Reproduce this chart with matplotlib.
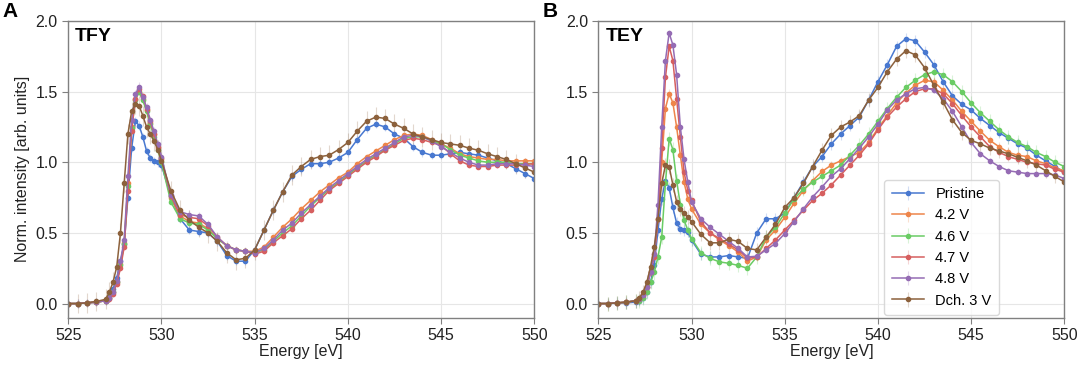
import matplotlib
matplotlib.use("Agg")
import matplotlib.pyplot as plt
import numpy as np

plt.rcParams['font.family'] = ['Liberation Sans', 'DejaVu Sans']

########### Data ######################################
energy = [525, 525.5, 526, 526.5, 527,
          527.2, 527.4, 527.6, 527.8, 528.0, 528.2, 528.4, 528.6, 528.8, 529.0,
          529.2, 529.4, 529.6, 529.8, 530.0,
          530.5, 531, 531.5, 532, 532.5, 533, 533.5, 534, 534.5, 535,
          535.5, 536, 536.5, 537, 537.5, 538, 538.5, 539, 539.5, 540,
          540.5, 541, 541.5, 542, 542.5, 543, 543.5, 544, 544.5, 545,
          545.5, 546, 546.5, 547, 547.5, 548, 548.5, 549, 549.5, 550]

labels = ['Pristine', '4.2 V', '4.6 V', '4.7 V', '4.8 V', 'Dch. 3 V']
colors = ['#4878d0', '#ee854a', '#6acc64', '#d65f5f', '#956cb4', '#8c613c']

# TFY panel
tfy_pristine = [0, 0, 0.005, 0.01, 0.02,
                0.05, 0.10, 0.18, 0.30, 0.42, 0.75, 1.10, 1.29, 1.26, 1.18,
                1.08, 1.03, 1.01, 1.00, 0.98,
                0.76, 0.60, 0.52, 0.51, 0.50, 0.44, 0.34, 0.30, 0.30, 0.38,
                0.52, 0.66, 0.79, 0.90, 0.95, 0.99, 0.99, 1.00, 1.03, 1.07,
                1.16, 1.24, 1.27, 1.25, 1.20, 1.17, 1.11, 1.07, 1.05, 1.05,
                1.06, 1.07, 1.06, 1.05, 1.03, 1.01, 0.99, 0.955, 0.92, 0.885]
tfy_42 = [0, 0, 0.005, 0.01, 0.02,
          0.04, 0.08, 0.15, 0.28, 0.43, 0.85, 1.25, 1.45, 1.50, 1.45,
          1.37, 1.28, 1.20, 1.10, 1.02,
          0.75, 0.62, 0.58, 0.57, 0.53, 0.46, 0.41, 0.38, 0.37, 0.37,
          0.40, 0.47, 0.54, 0.60, 0.67, 0.73, 0.79, 0.84, 0.89, 0.93,
          0.99, 1.04, 1.08, 1.12, 1.16, 1.19, 1.20, 1.19, 1.16, 1.13,
          1.10, 1.06, 1.04, 1.03, 1.02, 1.02, 1.01, 1.01, 1.01, 1.01]
tfy_46 = [0, 0, 0.005, 0.01, 0.02,
          0.04, 0.08, 0.15, 0.27, 0.42, 0.83, 1.24, 1.44, 1.50, 1.44,
          1.36, 1.27, 1.18, 1.09, 1.00,
          0.72, 0.60, 0.57, 0.56, 0.52, 0.46, 0.41, 0.38, 0.37, 0.36,
          0.38, 0.44, 0.50, 0.55, 0.62, 0.69, 0.75, 0.81, 0.86, 0.91,
          0.96, 1.01, 1.05, 1.09, 1.13, 1.17, 1.18, 1.18, 1.15, 1.13,
          1.09, 1.05, 1.03, 1.01, 1.00, 1.00, 1.00, 0.99, 0.99, 0.99]
tfy_47 = [0, 0, 0.005, 0.01, 0.02,
          0.03, 0.07, 0.14, 0.25, 0.40, 0.80, 1.22, 1.45, 1.52, 1.47,
          1.38, 1.29, 1.20, 1.11, 1.03,
          0.76, 0.63, 0.61, 0.60, 0.55, 0.47, 0.41, 0.38, 0.37, 0.35,
          0.37, 0.43, 0.48, 0.53, 0.60, 0.66, 0.73, 0.80, 0.85, 0.90,
          0.95, 1.00, 1.04, 1.085, 1.12, 1.155, 1.17, 1.16, 1.14, 1.12,
          1.06, 1.01, 0.98, 0.97, 0.97, 0.98, 0.98, 0.98, 0.985, 0.99]
tfy_48 = [0, 0, 0.005, 0.01, 0.02,
          0.04, 0.08, 0.16, 0.30, 0.45, 0.90, 1.30, 1.48, 1.535, 1.46,
          1.39, 1.30, 1.22, 1.13, 1.04,
          0.77, 0.65, 0.63, 0.62, 0.56, 0.47, 0.41, 0.38, 0.37, 0.36,
          0.39, 0.45, 0.52, 0.57, 0.64, 0.70, 0.76, 0.82, 0.87, 0.92,
          0.97, 1.02, 1.06, 1.10, 1.14, 1.18, 1.19, 1.18, 1.15, 1.11,
          1.07, 1.03, 1.00, 0.98, 0.98, 0.99, 0.99, 0.99, 0.98, 0.97]
tfy_dch = [0, 0, 0.005, 0.015, 0.03,
           0.08, 0.15, 0.26, 0.50, 0.85, 1.20, 1.36, 1.41, 1.40, 1.33,
           1.25, 1.20, 1.15, 1.09, 1.01,
           0.80, 0.66, 0.59, 0.54, 0.50, 0.44, 0.36, 0.31, 0.32, 0.38,
           0.52, 0.66, 0.79, 0.91, 0.97, 1.02, 1.04, 1.05, 1.09, 1.14,
           1.22, 1.29, 1.32, 1.31, 1.27, 1.24, 1.20, 1.18, 1.16, 1.14,
           1.13, 1.12, 1.10, 1.085, 1.06, 1.04, 1.02, 0.99, 0.96, 0.93]

# TEY panel
tey_pristine = [0, 0, 0.003, 0.005, 0.01,
                0.02, 0.04, 0.08, 0.15, 0.27, 0.52, 0.74, 0.87, 0.82, 0.68,
                0.57, 0.53, 0.52, 0.51, 0.45,
                0.35, 0.33, 0.33, 0.34, 0.33, 0.32, 0.50, 0.60, 0.60, 0.64,
                0.75, 0.86, 0.97, 1.04, 1.13, 1.20, 1.26, 1.32, 1.44, 1.57,
                1.69, 1.82, 1.875, 1.86, 1.78, 1.69, 1.57, 1.47, 1.41, 1.37,
                1.31, 1.26, 1.21, 1.17, 1.13, 1.10, 1.05, 1.01, 0.97, 0.93]
tey_42 = [0, 0, 0.005, 0.01, 0.02,
          0.03, 0.06, 0.12, 0.22, 0.35, 0.60, 1.00, 1.38, 1.486, 1.42,
          1.25, 1.05, 0.86, 0.74, 0.67,
          0.56, 0.50, 0.45, 0.41, 0.365, 0.30, 0.33, 0.45, 0.52, 0.61,
          0.71, 0.80, 0.87, 0.935, 0.98, 1.01, 1.04, 1.07, 1.14, 1.24,
          1.33, 1.42, 1.49, 1.545, 1.58, 1.57, 1.51, 1.44, 1.36, 1.29,
          1.22, 1.155, 1.11, 1.07, 1.05, 1.04, 1.01, 0.99, 0.96, 0.94]
tey_46 = [0, 0, 0.005, 0.01, 0.02,
          0.02, 0.04, 0.08, 0.15, 0.22, 0.33, 0.47, 0.85, 1.167, 1.09,
          0.87, 0.70, 0.59, 0.52, 0.46,
          0.36, 0.32, 0.295, 0.285, 0.27, 0.25, 0.33, 0.47, 0.54, 0.64,
          0.74, 0.81, 0.86, 0.90, 0.94, 0.98, 1.05, 1.12, 1.20, 1.29,
          1.38, 1.46, 1.53, 1.58, 1.62, 1.64, 1.62, 1.57, 1.50, 1.42,
          1.35, 1.29, 1.23, 1.18, 1.14, 1.11, 1.07, 1.04, 1.00, 0.97]
tey_47 = [0, 0, 0.005, 0.01, 0.02,
          0.03, 0.06, 0.12, 0.22, 0.33, 0.60, 1.10, 1.60, 1.82, 1.72,
          1.45, 1.18, 0.93, 0.80, 0.73,
          0.58, 0.50, 0.46, 0.42, 0.38, 0.32, 0.33, 0.39, 0.45, 0.52,
          0.59, 0.66, 0.73, 0.78, 0.84, 0.91, 0.98, 1.05, 1.13, 1.23,
          1.32, 1.39, 1.45, 1.50, 1.52, 1.52, 1.485, 1.415, 1.33, 1.25,
          1.18, 1.11, 1.07, 1.04, 1.02, 1.00, 0.99, 0.98, 0.95, 0.93]
tey_48 = [0, 0, 0.005, 0.01, 0.02,
          0.03, 0.06, 0.12, 0.22, 0.35, 0.70, 1.25, 1.72, 1.915, 1.83,
          1.62, 1.25, 1.02, 0.86, 0.72,
          0.60, 0.54, 0.49, 0.44, 0.39, 0.33, 0.335, 0.38, 0.425, 0.495,
          0.58, 0.67, 0.755, 0.825, 0.90, 0.955, 1.025, 1.10, 1.18, 1.27,
          1.37, 1.44, 1.485, 1.52, 1.53, 1.51, 1.45, 1.36, 1.25, 1.14,
          1.06, 1.01, 0.97, 0.94, 0.93, 0.92, 0.92, 0.92, 0.91, 0.885]
tey_dch = [0, 0, 0.005, 0.01, 0.02,
           0.04, 0.08, 0.15, 0.26, 0.40, 0.60, 0.85, 0.98, 0.97, 0.84,
           0.72, 0.67, 0.64, 0.61, 0.58,
           0.49, 0.43, 0.43, 0.455, 0.44, 0.39, 0.38, 0.47, 0.56, 0.68,
           0.75, 0.85, 0.97, 1.085, 1.19, 1.25, 1.285, 1.33, 1.44, 1.53,
           1.64, 1.73, 1.79, 1.76, 1.67, 1.545, 1.425, 1.30, 1.21, 1.155,
           1.13, 1.10, 1.08, 1.06, 1.035, 1.01, 0.98, 0.94, 0.90, 0.86]

# rough error bar size per series
tfy_err = [0.03, 0.02, 0.02, 0.02, 0.03, 0.07]
tey_err = [0.04, 0.03, 0.05, 0.02, 0.02, 0.05]

tfy_data = [tfy_pristine, tfy_42, tfy_46, tfy_47, tfy_48, tfy_dch]
tey_data = [tey_pristine, tey_42, tey_46, tey_47, tey_48, tey_dch]

############ Figure ###################
fig = plt.figure(figsize=(10.8, 3.68), dpi=100)
ax_a = fig.add_axes([0.0632, 0.1367, 0.4315, 0.8063])
ax_b = fig.add_axes([0.554, 0.1367, 0.4315, 0.8063])

for ax, series, errs, title in [(ax_a, tfy_data, tfy_err, 'TFY'),
                                (ax_b, tey_data, tey_err, 'TEY')]:
    for y, e, c, lab in zip(series, errs, colors, labels):
        ax.errorbar(energy, y, yerr=e, color=c, label=lab, marker='o',
                    markersize=3, linewidth=1.1, elinewidth=0.8,
                    ecolor=matplotlib.colors.to_rgba(c, 0.25), capsize=0)
    ax.set_xlim(525, 550)
    ax.set_ylim(-0.1, 2.0)
    ax.set_xticks([525, 530, 535, 540, 545, 550])
    ax.set_yticks([0.0, 0.5, 1.0, 1.5, 2.0])
    ax.yaxis.set_major_formatter(matplotlib.ticker.FormatStrFormatter('%.1f'))
    ax.grid(True, color='#e6e6e6', linewidth=0.8)
    ax.set_axisbelow(True)
    for s in ax.spines.values():
        s.set_color('#808080')
        s.set_linewidth(1)
    ax.tick_params(direction='out', length=4, color='#808080',
                   labelsize=11.5, labelcolor='#222222')
    ax.set_xlabel('Energy [eV]', fontsize=11.5, labelpad=1, color='#222222')
    ax.text(0.015, 0.975, title, transform=ax.transAxes, fontsize=14,
            fontweight='bold', va='top', ha='left')

ax_a.set_ylabel('Norm. intensity [arb. units]', fontsize=11.5, color='#222222')
fig.text(0.002, 0.995, 'A', fontsize=15, fontweight='bold', va='top')
fig.text(0.502, 0.995, 'B', fontsize=15, fontweight='bold', va='top')

ax_b.legend(loc='lower right', bbox_to_anchor=(0.875, -0.015), fontsize=10.5,
            frameon=True, edgecolor='#d0d0d0', fancybox=True,
            handlelength=2.2, borderpad=0.5, labelspacing=0.5)

fig.savefig('out.png', dpi=100)
